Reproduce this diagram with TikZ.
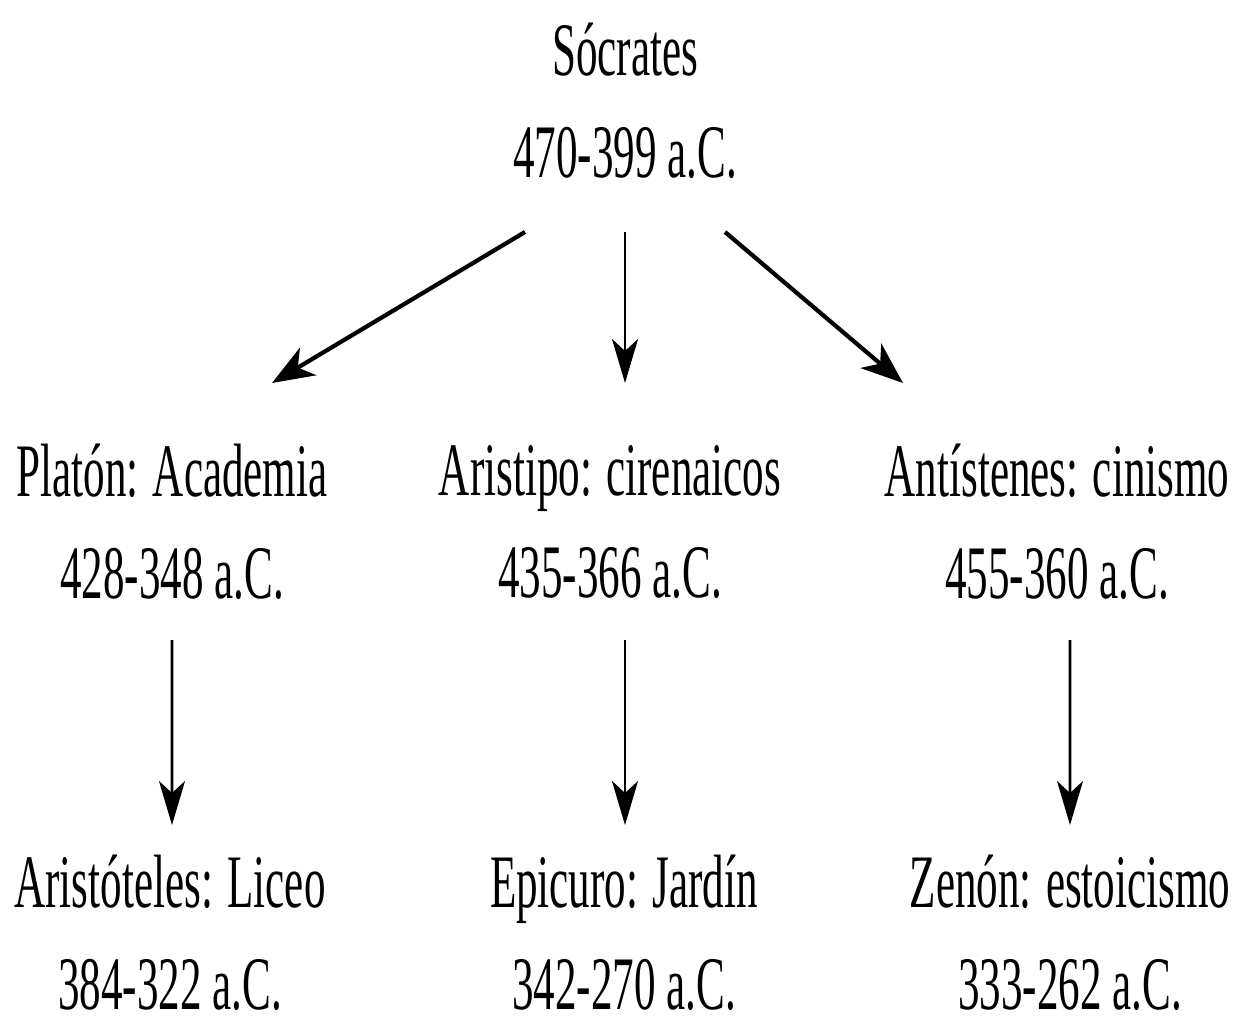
\documentclass[tikz,border=0pt]{standalone}
\usepackage{fontspec}
\setmainfont{Liberation Serif}[FakeStretch=0.57]
\usepackage{tikz}
\usetikzlibrary{arrows.meta,positioning,calc}

\begin{document}
\begin{tikzpicture}[
    phil/.style={align=center,inner sep=0pt,font=\fontsize{21.5}{29}\selectfont},
    thick arr/.style={-{Stealth[length=4.2mm,width=3.2mm,inset=1.2mm]},line width=1.2pt},
    thin arr/.style={-{Stealth[length=4.4mm,width=2.6mm,inset=1.2mm]},line width=0.75pt}]
    \useasboundingbox (0,0) rectangle (12.39,-10.24);
    \node[phil] (soc) at (6.25,-1.01) {Sócrates\\470-399 a.C.};
    \node[phil] (platon) at (1.72,-5.22) {Platón: Academia\\428-348 a.C.};
    \node[phil] (aristipo) at (6.10,-5.22) {Aristipo: cirenaicos\\435-366 a.C.};
    \node[phil] (antis) at (10.57,-5.22) {Antístenes: cinismo\\455-360 a.C.};
    \node[phil] (aristot) at (1.70,-9.33) {Aristóteles: Liceo\\384-322 a.C.};
    \node[phil] (epicuro) at (6.24,-9.33) {Epicuro: Jardín\\342-270 a.C.};
    \node[phil] (zenon) at (10.70,-9.33) {Zenón: estoicismo\\333-262 a.C.};
    % Socrates to his pupils
    \draw[thick arr] ($(soc.center)+(-1.00,-1.31)$) -- ($(platon.center)+(1.00,1.39)$);
    \draw[thin arr] ($(soc.center)+(0,-1.31)$) -- ($(aristipo.center)+(0.15,1.39)$);
    \draw[thick arr] ($(soc.center)+(1.00,-1.31)$) -- ($(antis.center)+(-1.54,1.39)$);
    % schools that follow
    \foreach \a/\b/\sx/\ex in {platon/aristot/0/0.02,aristipo/epicuro/0.15/0.01,antis/zenon/0.13/0} {
      \draw[thin arr] ($(\a.center)+(\sx,-1.18)$) -- ($(\b.center)+(\ex,1.08)$);
    }
  \end{tikzpicture}
\end{document}
